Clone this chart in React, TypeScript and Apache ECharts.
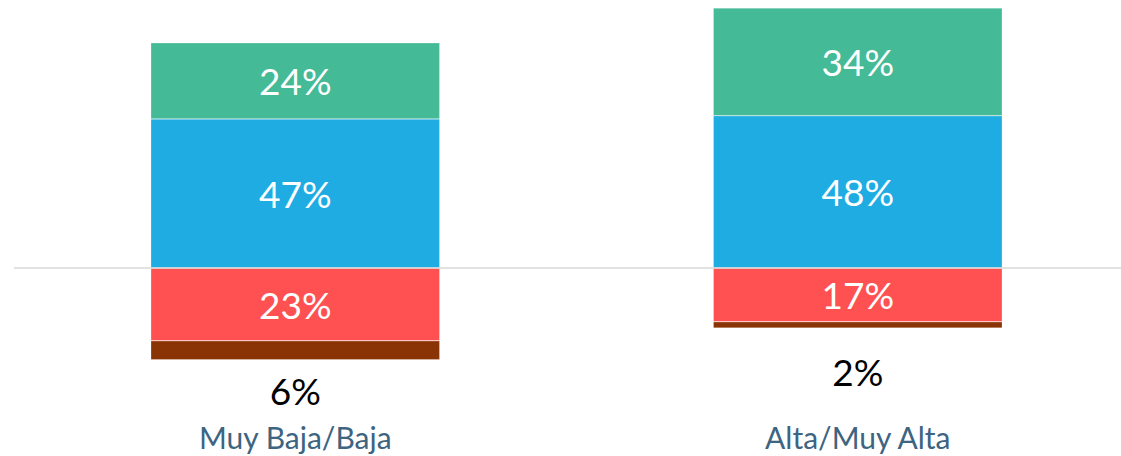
import React, { useEffect, useRef } from "react";
import * as echarts from "echarts";

const categories = ["Muy Baja/Baja", "Alta/Muy Alta"];
const blueValues = [47, 48];
const greenValues = [24, 34];
const redValues = [-23, -17];
const brownValues = [-6, -2];

const FONT = "Lato, 'Open Sans', sans-serif";

export default function App() {
  const ref = useRef<HTMLDivElement>(null);
  useEffect(() => {
    document.body.style.margin = "0";
    document.body.style.overflow = "hidden";
    const chart = echarts.init(ref.current!, undefined, { renderer: "svg" });
    const pct = (p: any) => Math.abs(p.value) + "%";
    const inner = {
      show: true,
      position: "inside",
      color: "#ffffff",
      fontSize: 37,
      fontFamily: FONT,
      formatter: pct,
    };
    const border = { borderColor: "rgba(255,255,255,0.5)", borderWidth: 0.5 };
    chart.setOption({
      animation: false,
      grid: { left: 14, right: 0, top: 0, bottom: 61.3, containLabel: false },
      xAxis: {
        type: "category",
        data: categories,
        position: "bottom",
        axisLine: { show: false, onZero: false },
        axisTick: { show: false },
        axisLabel: {
          color: "#3d6480",
          fontSize: 30,
          fontFamily: FONT,
          margin: 27,
        },
      },
      yAxis: {
        type: "value",
        min: -40,
        max: 84.5,
        show: false,
        splitLine: { show: false },
      },
      series: [
        {
          type: "bar",
          stack: "total",
          barWidth: 289,
          data: blueValues,
          itemStyle: { color: "#1eace3", ...border },
          label: inner,
          z: 2,
        },
        {
          type: "bar",
          stack: "total",
          barWidth: 289,
          data: greenValues,
          itemStyle: { color: "#45ba96", ...border },
          label: inner,
        },
        {
          type: "bar",
          stack: "total",
          barWidth: 289,
          data: redValues,
          itemStyle: { color: "#ff5151", ...border },
          label: inner,
          markLine: {
            silent: true,
            symbol: "none",
            label: { show: false },
            lineStyle: { color: "#d9d9d9", width: 1.5, type: "solid" },
            data: [{ yAxis: 0 }],
          },
        },
        {
          type: "bar",
          stack: "total",
          barWidth: 289,
          data: brownValues.map((v, i) => ({
            value: v,
            label: { distance: i === 0 ? 12 : 25 },
          })),
          itemStyle: { color: "#8a3405", ...border },
          label: {
            show: true,
            position: "bottom",
            color: "#000000",
            fontSize: 37,
            fontFamily: FONT,
            formatter: pct,
          },
        },
      ],
    });
    return () => chart.dispose();
  }, []);
  return <div ref={ref} style={{ width: 1139, height: 456 }} />;
}
